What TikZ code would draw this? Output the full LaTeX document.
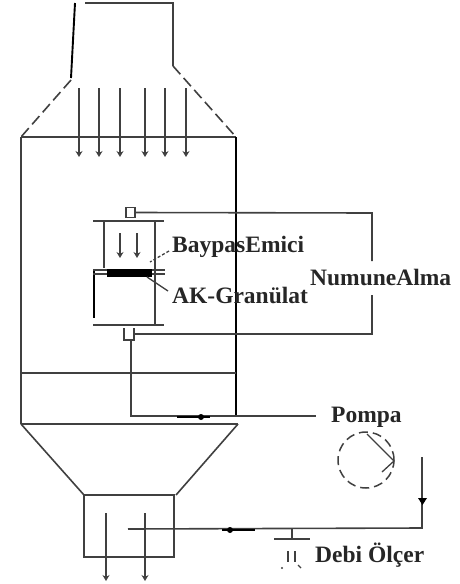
\documentclass[tikz,border=0pt]{standalone}
\usepackage{fontspec}
\setmainfont{Liberation Serif}
\usetikzlibrary{arrows.meta, positioning}

\begin{document}
\begin{tikzpicture}[
    x=1pt, y=-1pt,
    wall/.style = {draw=black!75, line width=1.6pt},
    heavy/.style = {draw=black, line width=1.9pt},
    thin pipe/.style = {draw=black!75, line width=1.3pt},
    brokenline/.style = {draw=black!75, line width=1.6pt, dash pattern=on 11pt off 5pt},
    flow/.style = {draw=black!75, line width=1.4pt, -{Stealth[length=6pt,width=7pt]}},
    label/.style = {font=\bfseries\fontsize{23.5}{25}\selectfont, text=black!85, anchor=west, inner sep=0pt}
]
\useasboundingbox (0,0) rectangle (459,584);

% Upper duct and inlet cone
\draw [heavy] (75,3) -- (71,78);
\draw [wall] (85,3) -- (173,3) -- (173,66);
\draw [brokenline] (71,80) -- (21,137);
\draw [brokenline] (173,66) -- (236,137);
\draw [wall] (21,137) -- (236,137);

% Column walls and cross lines
\draw [wall] (21,137) -- (21,424);
\draw [heavy] (236,137) -- (236,416);
\draw [wall] (21,373) -- (236,373);
\draw [wall] (21,424) -- (238,424);

% Gas arrows into the column
\foreach \xpos in {79,99,120,145,165,186}
    \draw [flow] (\xpos,88) -- (\xpos,157);

% Lower cone and outlet box
\draw [wall] (21,424) -- (84,495);
\draw [wall] (238,424) -- (176,495);
\draw [wall] (84,495) rectangle (174,557);
\foreach \xpos in {106,145}
    \draw [flow] (\xpos,513) -- (\xpos,581);

% Sampling head
\node (cap) [draw=black!75, line width=1.3pt, minimum width=9pt, minimum height=10pt, inner sep=0pt] at (130.5,212.5) {};
\draw [wall] (93,221) -- (164,221);
\draw [wall] (104,221) -- (104,268);
\draw [wall] (155,221) -- (155,324);
\draw [heavy] (94,270) -- (94,318);
\draw [thin pipe] (93,270) -- (165,270);
\draw [thin pipe] (93,274) -- (165,274);
\node (granulate) [fill=black, minimum width=45pt, minimum height=8pt, inner sep=0pt] at (129.5,273) {};
\draw [wall] (93,325) -- (164,325);
\foreach \xpos in {120,137}
    \draw [flow, line width=1.6pt] (\xpos,233) -- (\xpos,258);

% U piece below the head
\draw [wall] (124,328) -- (124,340) -- (134,340) -- (134,328);

% Sampling loop, broken by its label
\draw [wall] (cap.east) -- (372,213) -- (372,261);
\draw [wall] (134,334) -- (372,334) -- (372,295);

% Line to the pump
\coordinate (pumpin) at (316,416);
\draw [wall] (131,340) -- (131,416) -- (pumpin);
\draw [heavy, line width=2.4pt] (177,417) -- (210,417);
\fill [black] (201,417) circle (3pt);

% Pump
\node (pump) [circle, draw=black!75, line width=1.5pt, dash pattern=on 9pt off 5pt, minimum size=56pt, inner sep=0pt] at (366,460) {};
\draw [thin pipe] (367,434) -- (394,461) -- (382,472);

% Return line
\coordinate (retstart) at (422,457);
\draw [wall] (retstart) -- (422,528) -- (128,529);
\fill [black] (418,498) -- (427,498) -- (422.5,505) -- cycle;
\draw [heavy, line width=2.4pt] (222,530) -- (255,530);
\fill [black] (230,530) circle (3pt);

% Flow meter
\draw [wall] (292,528) -- (292,539);
\draw [wall] (274,539) -- (310,539);
\draw [thin pipe] (288,551) -- (288,562);
\draw [thin pipe] (295,551) -- (295,562);
\fill [black!75] (282,568) circle (1.2pt);
\draw [thin pipe] (298,565) -- (301,568);

% Labels
\node (bypass) [label] at (172,247) {BaypasEmici};
\node (granlabel) [label] at (172,295) {AK-Granülat};
\node (sampling) [label] at (310,277) {NumuneAlma};
\node (pumplabel) [label] at (331,417) {Pompa};
\node (meter) [label] at (315,555) {Debi Ölçer};

% Leaders
\draw [thin pipe, densely dashed] (bypass.west) ++(-3,4) -- (150,262);
\draw [thin pipe] (147,277) -- (168,291);
\end{tikzpicture}
\end{document}
